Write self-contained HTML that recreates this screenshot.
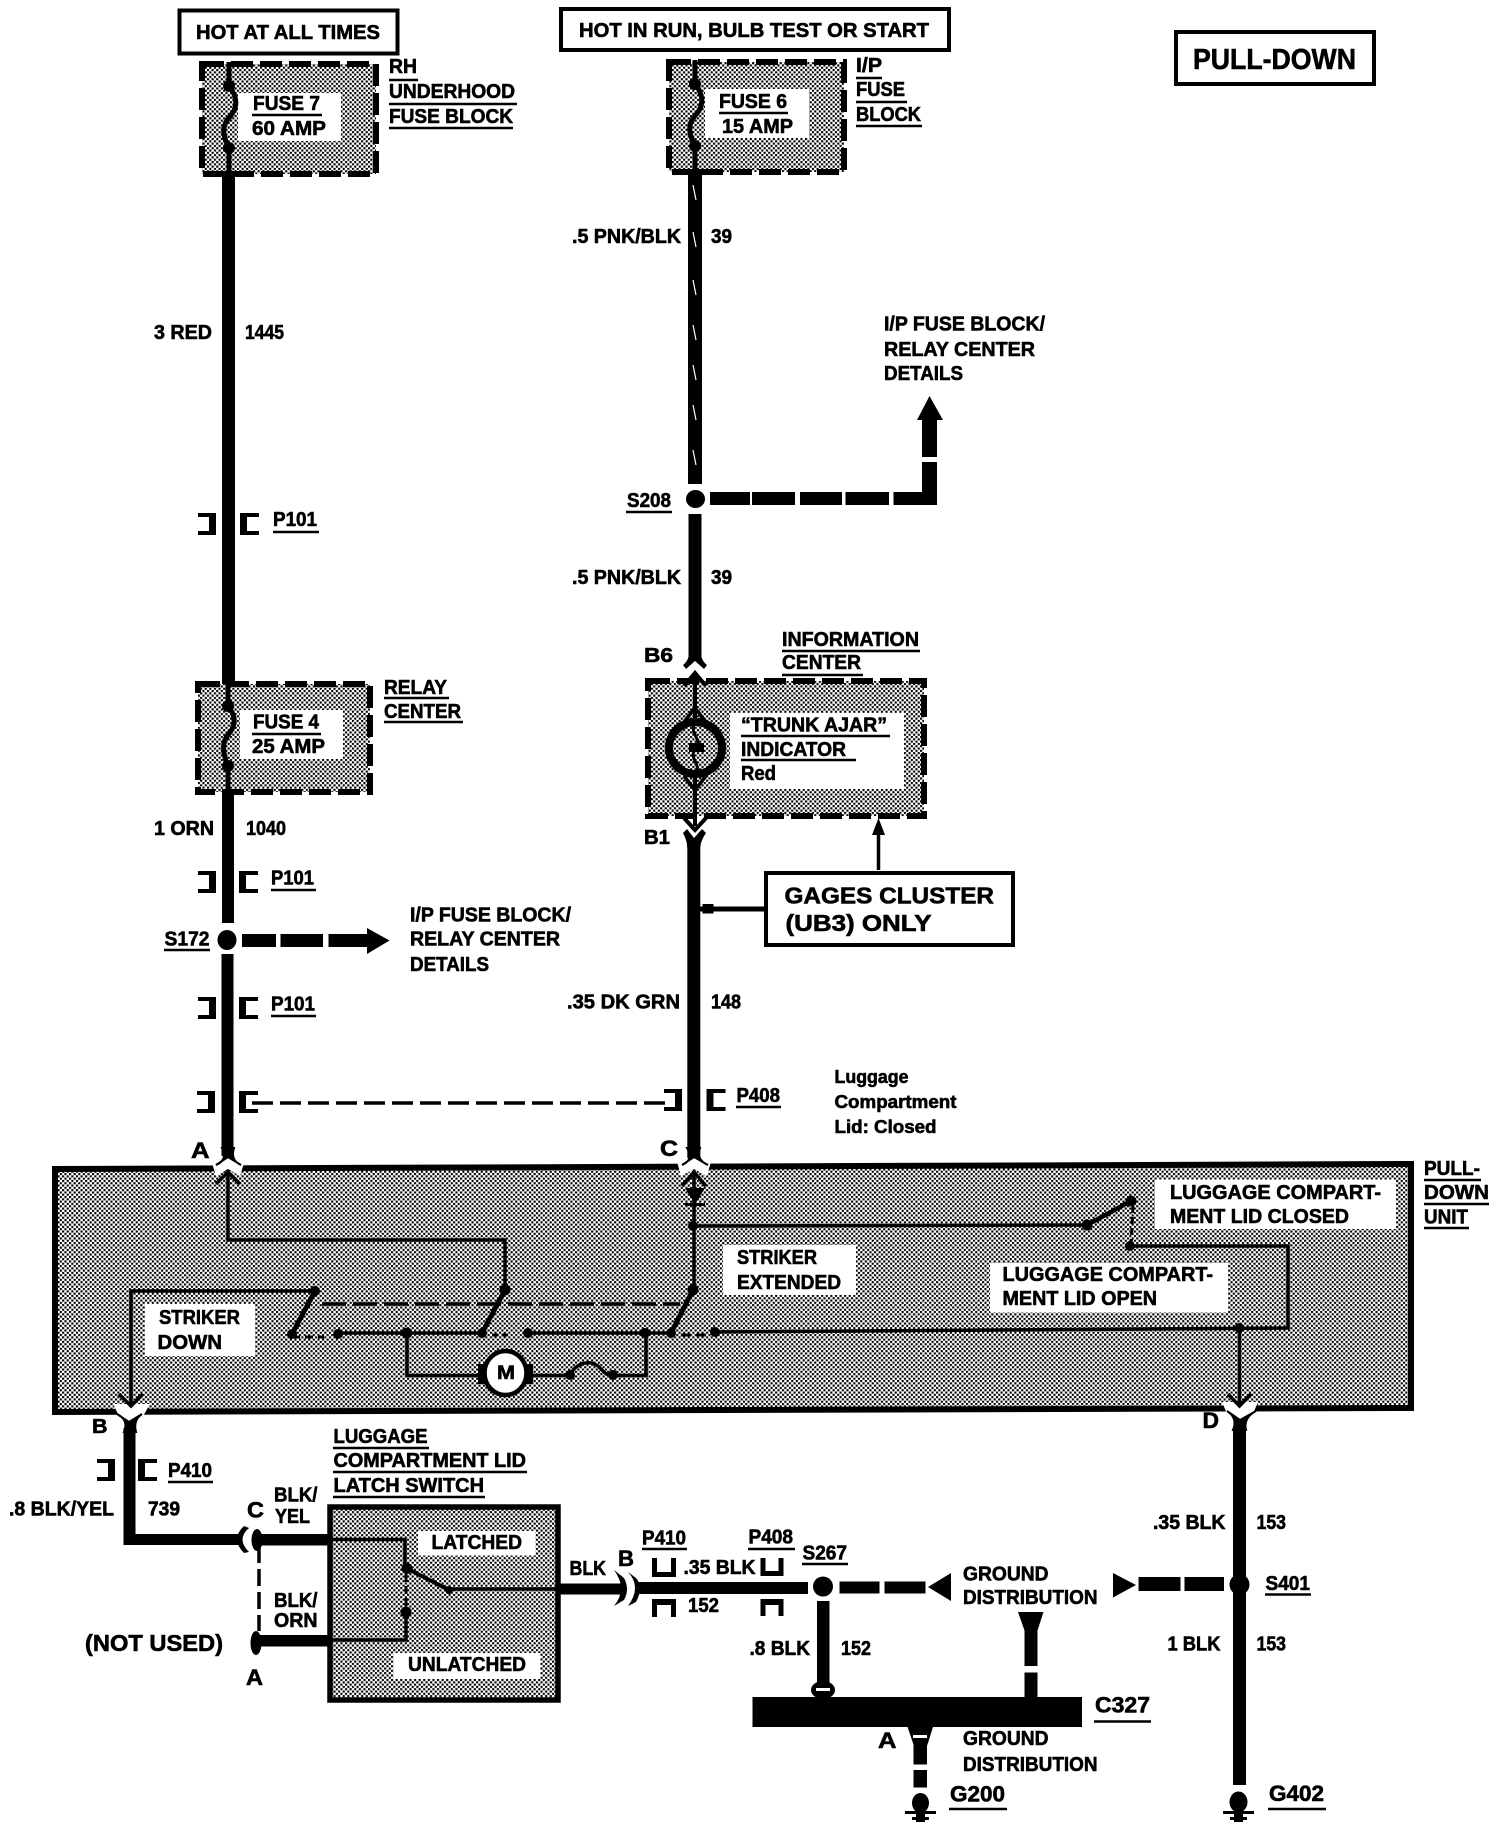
<!DOCTYPE html>
<html><head><meta charset="utf-8"><title>Pull-Down wiring diagram</title>
<style>
html,body{margin:0;padding:0;background:#fff}
svg{display:block}
text{font-family:"Liberation Sans",sans-serif;font-weight:700;font-size:20px;fill:#000;stroke:#000;stroke-width:.6;transform:translateY(-1px)}
.u{stroke:#000;stroke-width:2.6;fill:none}
.w{stroke:#000;stroke-width:3.5;fill:none}
.d{stroke:#000;stroke-width:6;fill:none;stroke-dasharray:22 7}
.n{stroke:#000;stroke-width:3.5;fill:none;stroke-dasharray:24 7}
</style></head><body>
<svg xmlns="http://www.w3.org/2000/svg" width="1504" height="1830" viewBox="0 0 1504 1830">
<defs>
<pattern id="h" width="4.6" height="4.6" patternUnits="userSpaceOnUse">
<rect width="4.6" height="4.6" fill="#fff"/><rect width="2.1" height="2.1" fill="#000"/><rect x="2.3" y="2.3" width="2.1" height="2.1" fill="#000"/>
</pattern>
<path id="rb" d="M0 0h18v22h-18v-4h11v-14h-11z"/>
<path id="lb" d="M0 0h19v4h-12v14h12v4h-19z"/>
</defs>
<rect width="1504" height="1830" fill="#fff"/>

<!-- top boxes -->
<rect x="179.500" y="10.500" width="218" height="43" fill="#fff" stroke="#000" stroke-width="4"/>
<rect x="561" y="9" width="388" height="41" fill="#fff" stroke="#000" stroke-width="4"/>
<rect x="1176" y="32" width="198" height="52" fill="#fff" stroke="#000" stroke-width="4"/>
<text x="196" y="40" textLength="184" lengthAdjust="spacingAndGlyphs">HOT AT ALL TIMES</text>
<text x="579" y="38" textLength="350" lengthAdjust="spacingAndGlyphs">HOT IN RUN, BULB TEST OR START</text>
<text x="1193" y="70" textLength="163" lengthAdjust="spacingAndGlyphs" style="font-size:29px">PULL-DOWN</text>

<!-- Fuse 7 -->
<rect x="202" y="64" width="174" height="110" fill="url(#h)"/>
<rect x="202" y="64" width="174" height="110" class="d"/>
<rect x="238" y="93" width="103" height="48" fill="#fff"/>
<path d="M229 62V86C240 100 236 110 229 118C222 125 222 135 229 148V172" fill="none" stroke="#000" stroke-width="5"/>
<circle cx="229" cy="86" r="6"/><circle cx="229" cy="148" r="6"/>
<text x="253" y="111" textLength="67" lengthAdjust="spacingAndGlyphs">FUSE 7</text>
<line class="u" x1="252" y1="115" x2="322" y2="115"/>
<text x="252" y="136" textLength="74" lengthAdjust="spacingAndGlyphs">60 AMP</text>
<text x="389" y="74" textLength="28" lengthAdjust="spacingAndGlyphs">RH</text><line class="u" x1="389" y1="80" x2="418" y2="80"/>
<text x="389" y="99" textLength="126" lengthAdjust="spacingAndGlyphs">UNDERHOOD</text><line class="u" x1="389" y1="104" x2="517" y2="104"/>
<text x="389" y="124" textLength="124" lengthAdjust="spacingAndGlyphs">FUSE BLOCK</text><line class="u" x1="389" y1="128" x2="513" y2="128"/>

<!-- Fuse 6 -->
<rect x="669" y="62" width="175" height="110" fill="url(#h)"/>
<rect x="669" y="62" width="175" height="110" class="d"/>
<rect x="705" y="89" width="104" height="49" fill="#fff"/>
<path d="M695 60V84C706 98 702 108 695 116C688 123 688 133 695 146V170" fill="none" stroke="#000" stroke-width="5"/>
<circle cx="695" cy="84" r="6"/><circle cx="695" cy="146" r="6"/>
<text x="719" y="109" textLength="68" lengthAdjust="spacingAndGlyphs">FUSE 6</text>
<line class="u" x1="719" y1="113" x2="788" y2="113"/>
<text x="722" y="134" textLength="71" lengthAdjust="spacingAndGlyphs">15 AMP</text>
<text x="856" y="73" textLength="26" lengthAdjust="spacingAndGlyphs">I/P</text><line class="u" x1="856" y1="78" x2="882" y2="78"/>
<text x="856" y="97" textLength="49" lengthAdjust="spacingAndGlyphs">FUSE</text><line class="u" x1="856" y1="102" x2="907" y2="102"/>
<text x="856" y="122" textLength="65" lengthAdjust="spacingAndGlyphs">BLOCK</text><line class="u" x1="856" y1="126" x2="922" y2="126"/>

<!-- Left wire -->
<rect x="222" y="171" width="13" height="513"/>
<text x="154" y="340" textLength="58" lengthAdjust="spacingAndGlyphs">3 RED</text>
<text x="245" y="340" textLength="39" lengthAdjust="spacingAndGlyphs">1445</text>
<use href="#rb" x="198" y="513"/><use href="#lb" x="240" y="513"/>
<text x="273" y="527" textLength="44" lengthAdjust="spacingAndGlyphs">P101</text><line class="u" x1="273" y1="532" x2="319" y2="532"/>

<!-- Fuse 4 -->
<rect x="198" y="684" width="172" height="108" fill="url(#h)"/>
<rect x="198" y="684" width="172" height="108" class="d"/>
<rect x="240" y="710" width="103" height="49" fill="#fff"/>
<path d="M228 684V706C238 718 234 728 228 735C222 742 222 752 228 766V792" fill="none" stroke="#000" stroke-width="5"/>
<circle cx="228" cy="706" r="6"/><circle cx="228" cy="766" r="6"/>
<text x="253" y="729.500" textLength="66" lengthAdjust="spacingAndGlyphs">FUSE 4</text>
<line class="u" x1="252" y1="734" x2="321" y2="734"/>
<text x="252" y="754" textLength="73" lengthAdjust="spacingAndGlyphs">25 AMP</text>
<text x="384" y="695" textLength="63" lengthAdjust="spacingAndGlyphs">RELAY</text><line class="u" x1="384" y1="698" x2="449" y2="698"/>
<text x="384" y="719" textLength="77" lengthAdjust="spacingAndGlyphs">CENTER</text><line class="u" x1="384" y1="722" x2="463" y2="722"/>

<rect x="222" y="791" width="12" height="132"/>
<text x="154" y="836" textLength="60" lengthAdjust="spacingAndGlyphs">1 ORN</text>
<text x="246" y="836" textLength="40" lengthAdjust="spacingAndGlyphs">1040</text>
<use href="#rb" x="198" y="871"/><use href="#lb" x="239" y="871"/>
<text x="271" y="885.500" textLength="43" lengthAdjust="spacingAndGlyphs">P101</text><line class="u" x1="271" y1="890" x2="316" y2="890"/>
<ellipse cx="227" cy="940" rx="9.500" ry="10"/>
<text x="164.500" y="946.500" textLength="45" lengthAdjust="spacingAndGlyphs">S172</text><line class="u" x1="164" y1="950" x2="210" y2="950"/>
<rect x="242" y="934" width="34" height="13"/><rect x="280.500" y="934" width="42.500" height="13"/><rect x="328.500" y="934" width="39" height="13"/>
<path d="M367 928L389.500 940.500L367 954z"/>
<text x="410" y="922.500" textLength="161" lengthAdjust="spacingAndGlyphs">I/P FUSE BLOCK/</text>
<text x="410" y="946.500" textLength="150" lengthAdjust="spacingAndGlyphs">RELAY CENTER</text>
<text x="410" y="972" textLength="79" lengthAdjust="spacingAndGlyphs">DETAILS</text>
<rect x="221.500" y="954" width="12" height="202"/>
<use href="#rb" x="198" y="997"/><use href="#lb" x="239" y="997"/>
<text x="271" y="1011.500" textLength="44" lengthAdjust="spacingAndGlyphs">P101</text><line class="u" x1="271" y1="1016" x2="316" y2="1016"/>
<use href="#rb" x="197" y="1091"/><use href="#lb" x="239" y="1091"/>
<line x1="252" y1="1103" x2="668" y2="1103" stroke="#000" stroke-width="3.500" stroke-dasharray="21 7"/>
<use href="#rb" x="664" y="1089"/><use href="#lb" x="706.500" y="1089"/>
<text x="736.500" y="1103" textLength="43.500" lengthAdjust="spacingAndGlyphs">P408</text><line class="u" x1="736" y1="1107" x2="781" y2="1107"/>
<text x="834.500" y="1084" textLength="74" lengthAdjust="spacingAndGlyphs" style="font-size:18px">Luggage</text>
<text x="834.500" y="1109" textLength="122" lengthAdjust="spacingAndGlyphs" style="font-size:18px">Compartment</text>
<text x="834.500" y="1134" textLength="102" lengthAdjust="spacingAndGlyphs" style="font-size:18px">Lid: Closed</text>

<!-- Middle wire -->
<rect x="688" y="169" width="14" height="315"/>
<g stroke="#fff" stroke-width="1.200">
<line x1="693" y1="185" x2="696" y2="200"/><line x1="693" y1="232" x2="696" y2="247"/><line x1="693" y1="280" x2="696" y2="295"/><line x1="693" y1="325" x2="696" y2="340"/><line x1="693" y1="365" x2="696" y2="380"/><line x1="693" y1="405" x2="696" y2="420"/><line x1="693" y1="450" x2="696" y2="465"/>
</g>
<text x="572" y="244" textLength="109" lengthAdjust="spacingAndGlyphs">.5 PNK/BLK</text>
<text x="711" y="244" textLength="21" lengthAdjust="spacingAndGlyphs">39</text>
<text x="884" y="331.500" textLength="161" lengthAdjust="spacingAndGlyphs">I/P FUSE BLOCK/</text>
<text x="884" y="357" textLength="151" lengthAdjust="spacingAndGlyphs">RELAY CENTER</text>
<text x="884" y="381" textLength="79" lengthAdjust="spacingAndGlyphs">DETAILS</text>
<path d="M929.500 396L943 420H917z"/>
<rect x="922" y="420" width="15" height="37"/><rect x="922" y="462" width="15" height="43"/>
<rect x="710" y="492" width="40" height="13"/><rect x="752" y="492" width="43" height="13"/><rect x="800" y="492" width="42" height="13"/><rect x="845.500" y="492" width="43.500" height="13"/><rect x="893.500" y="492" width="43.500" height="13"/>
<ellipse cx="695.500" cy="499" rx="9.500" ry="9"/>
<text x="627" y="508" textLength="44" lengthAdjust="spacingAndGlyphs">S208</text><line class="u" x1="626" y1="512" x2="672" y2="512"/>
<rect x="688.500" y="514" width="13" height="142"/>
<text x="572" y="585" textLength="109" lengthAdjust="spacingAndGlyphs">.5 PNK/BLK</text>
<text x="711" y="585" textLength="21" lengthAdjust="spacingAndGlyphs">39</text>
<text x="644" y="663" textLength="29" lengthAdjust="spacingAndGlyphs">B6</text>
<path d="M688.500 650V657Q687 662 683 665L686 669L695 661L704 669L707 665Q703 662 701.500 657V650z"/>

<!-- Information center -->
<text x="782" y="647" textLength="137" lengthAdjust="spacingAndGlyphs">INFORMATION</text><line class="u" x1="782" y1="651" x2="920" y2="651"/>
<text x="782" y="670" textLength="79" lengthAdjust="spacingAndGlyphs">CENTER</text><line class="u" x1="782" y1="675" x2="863" y2="675"/>
<rect x="648" y="681" width="276" height="135" fill="url(#h)"/>
<rect x="648" y="681" width="276" height="135" class="d"/>
<rect x="730" y="713" width="174" height="76" fill="#fff"/>
<line x1="695" y1="676" x2="695" y2="722" stroke="#000" stroke-width="4"/>
<line x1="695" y1="774" x2="695" y2="826" stroke="#000" stroke-width="4"/>
<polyline points="684,686 695,673 706,686" fill="none" stroke="#000" stroke-width="4"/>
<polyline points="684,818 695,830 706,818" fill="none" stroke="#000" stroke-width="4"/>
<polyline points="684,722 695,708 706,722" fill="none" stroke="#000" stroke-width="3.500"/>
<polyline points="684,776 695,790 706,776" fill="none" stroke="#000" stroke-width="3.500"/>
<ellipse cx="695.500" cy="748" rx="26.500" ry="26" fill="url(#h)" stroke="#000" stroke-width="8"/>
<path d="M695 722C688 735 705 740 695 750C688 758 703 765 695 775" fill="none" stroke="#000" stroke-width="3"/>
<rect x="689" y="743" width="15" height="9"/>
<text x="741" y="732.500" textLength="146" lengthAdjust="spacingAndGlyphs">“TRUNK AJAR”</text><line class="u" x1="741" y1="736" x2="890" y2="736"/>
<text x="741" y="757" textLength="105" lengthAdjust="spacingAndGlyphs">INDICATOR</text><line class="u" x1="741" y1="760" x2="856" y2="760"/>
<text x="741" y="781" textLength="35" lengthAdjust="spacingAndGlyphs">Red</text>
<text x="644" y="845" textLength="26" lengthAdjust="spacingAndGlyphs">B1</text>
<path d="M683 833L687 829L694 838L702 829L706 833Q701 840 700 848H687.300Q687 840 683 833z"/>
<rect x="687.300" y="845" width="13" height="316"/>
<text x="567" y="1009.500" textLength="113" lengthAdjust="spacingAndGlyphs">.35 DK GRN</text>
<text x="711" y="1009.500" textLength="30" lengthAdjust="spacingAndGlyphs">148</text>

<!-- Gages -->
<line x1="878.500" y1="870" x2="878.500" y2="830" stroke="#000" stroke-width="3.500"/>
<path d="M878.500 818L885 835H872z"/>
<rect x="700" y="906.500" width="64" height="5"/><rect x="702.500" y="904" width="11" height="9.500"/>
<rect x="766" y="873" width="247" height="72" fill="#fff" stroke="#000" stroke-width="4"/>
<text x="784.500" y="904.500" textLength="209.500" lengthAdjust="spacingAndGlyphs" style="font-size:23px">GAGES CLUSTER</text>
<text x="785.500" y="932" textLength="146" lengthAdjust="spacingAndGlyphs" style="font-size:23px">(UB3) ONLY</text>

<!-- Big pull-down box -->
<path d="M55 1169L1411 1164V1408L55 1412z" fill="url(#h)" stroke="#000" stroke-width="6"/>
<text x="1424" y="1176" textLength="56" lengthAdjust="spacingAndGlyphs">PULL-</text><line class="u" x1="1424" y1="1180" x2="1481" y2="1180"/>
<text x="1424" y="1200" textLength="65" lengthAdjust="spacingAndGlyphs">DOWN</text><line class="u" x1="1424" y1="1204" x2="1489" y2="1204"/>
<text x="1424" y="1224.500" textLength="44" lengthAdjust="spacingAndGlyphs">UNIT</text><line class="u" x1="1424" y1="1228" x2="1469" y2="1228"/>
<text x="191" y="1159" textLength="18.500" lengthAdjust="spacingAndGlyphs" style="font-size:22px">A</text>
<text x="660" y="1157" textLength="18" lengthAdjust="spacingAndGlyphs" style="font-size:22px">C</text>
<!-- gaps on border -->
<path d="M211 1160H245L240 1176L228 1169L216 1176z" fill="#fff"/>
<path d="M676 1158H712L707 1176L694 1169L681 1176z" fill="#fff"/>
<path d="M113 1404H150L142 1418H120z" fill="#fff"/>
<path d="M1222 1402H1258L1252 1416H1228z" fill="#fff"/>
<!-- flares -->
<path d="M216 1165Q228 1160 222 1148H234Q230 1160 241 1165L228 1157z" stroke="#000" stroke-width="2"/>
<path d="M682 1165Q694 1160 687 1148H700Q696 1160 708 1165L694 1157z" stroke="#000" stroke-width="2"/>

<!-- white labels -->
<rect x="145" y="1304" width="110" height="52" fill="#fff"/>
<rect x="723" y="1245" width="133" height="50" fill="#fff"/>
<rect x="1155" y="1179.500" width="241" height="49.500" fill="#fff"/>
<rect x="990" y="1263" width="238" height="49.500" fill="#fff"/>
<text x="159" y="1325" textLength="81" lengthAdjust="spacingAndGlyphs">STRIKER</text>
<text x="157.500" y="1350" textLength="64.500" lengthAdjust="spacingAndGlyphs">DOWN</text>
<text x="737" y="1265" textLength="80" lengthAdjust="spacingAndGlyphs">STRIKER</text>
<text x="737" y="1290" textLength="104" lengthAdjust="spacingAndGlyphs">EXTENDED</text>
<text x="1170" y="1200" textLength="211" lengthAdjust="spacingAndGlyphs">LUGGAGE COMPART-</text>
<text x="1170" y="1224" textLength="179" lengthAdjust="spacingAndGlyphs">MENT LID CLOSED</text>
<text x="1002.500" y="1282" textLength="210.500" lengthAdjust="spacingAndGlyphs">LUGGAGE COMPART-</text>
<text x="1002.500" y="1306" textLength="154.500" lengthAdjust="spacingAndGlyphs">MENT LID OPEN</text>

<!-- internal wiring -->
<polyline class="w" points="228,1172 228,1240 505,1240 505,1290"/>
<polyline points="216,1184 228,1172 240,1184" fill="none" stroke="#000" stroke-width="3.500"/>
<polyline class="w" points="131,1405 131,1291 315,1291"/>
<polyline points="119,1394 131,1406 143,1394" fill="none" stroke="#000" stroke-width="3.500"/>
<line x1="315" y1="1291" x2="292" y2="1334" stroke="#000" stroke-width="5"/>
<line x1="505" y1="1290" x2="482" y2="1333" stroke="#000" stroke-width="5"/>
<line x1="693" y1="1290" x2="671" y2="1333" stroke="#000" stroke-width="5"/>
<circle cx="315" cy="1291" r="5"/><circle cx="505" cy="1290" r="5.500"/><circle cx="693" cy="1290" r="5.500"/>
<circle cx="292" cy="1334" r="5"/><circle cx="482" cy="1333" r="5"/><circle cx="671" cy="1333" r="5"/>
<line class="n" x1="322" y1="1304" x2="680" y2="1304"/>
<line x1="292" y1="1337" x2="324" y2="1337" stroke="#000" stroke-width="3" stroke-dasharray="8 5"/>
<circle cx="338" cy="1334" r="5"/>
<line class="w" x1="338" y1="1333" x2="482" y2="1333"/>
<circle cx="407" cy="1333" r="5.500"/>
<polyline class="w" points="407,1333 407,1375.500 478,1375.500"/>
<rect x="478" y="1364" width="7" height="20"/><rect x="526" y="1364" width="7" height="20"/>
<ellipse cx="505.500" cy="1373" rx="21" ry="22" fill="#fff" stroke="#000" stroke-width="4.500"/>
<text x="497" y="1380" textLength="18" lengthAdjust="spacingAndGlyphs" style="font-size:19px">M</text>
<line class="w" x1="533" y1="1375.500" x2="570" y2="1375.500"/>
<path d="M570 1375.500C576 1362 590 1360 598 1366C604 1372 606 1375.500 613 1375.500H646V1333" fill="none" stroke="#000" stroke-width="3.500"/>
<circle cx="570" cy="1375" r="5"/><circle cx="613" cy="1375" r="5"/>
<line x1="492" y1="1335" x2="510" y2="1335" stroke="#000" stroke-width="3" stroke-dasharray="6 4"/>
<circle cx="528" cy="1333" r="5"/>
<line class="w" x1="528" y1="1333" x2="671" y2="1333"/>
<circle cx="645" cy="1333" r="5"/>
<line x1="681" y1="1335" x2="707" y2="1335" stroke="#000" stroke-width="3" stroke-dasharray="10 5"/>
<circle cx="715" cy="1332" r="5"/>
<polyline class="w" points="715,1332 1288,1328 1288,1246 1130,1246"/>
<circle cx="1130" cy="1246" r="5"/>
<line x1="1133" y1="1206" x2="1131" y2="1246" stroke="#000" stroke-width="3" stroke-dasharray="7 4"/>
<circle cx="1131" cy="1201" r="5.500"/>
<line x1="1131" y1="1201" x2="1087" y2="1225" stroke="#000" stroke-width="4.500"/>
<circle cx="1087" cy="1225" r="5.500"/>
<line class="w" x1="693" y1="1226" x2="1087" y2="1225"/>
<line class="w" x1="694" y1="1172" x2="694" y2="1290"/>
<polyline points="682,1186 694,1172 706,1186" fill="none" stroke="#000" stroke-width="3.500"/>
<path d="M685 1188H705L695 1204z"/><rect x="685" y="1203" width="20" height="3"/>
<circle cx="693" cy="1226" r="5"/>
<circle cx="1239.500" cy="1328" r="5"/>
<line class="w" x1="1239.500" y1="1328" x2="1239.500" y2="1405"/>
<polyline points="1228,1394 1239.500,1406 1251,1394" fill="none" stroke="#000" stroke-width="3.500"/>

<!-- B branch -->
<text x="92" y="1434" textLength="15.500" lengthAdjust="spacingAndGlyphs">B</text>
<path d="M117 1414Q129 1420 124 1432H136Q133 1420 142 1414L129 1422z" stroke="#000" stroke-width="2"/>
<rect x="123.500" y="1428" width="12" height="117"/>
<rect x="123.500" y="1534" width="116.500" height="11"/>
<use href="#rb" x="97" y="1459"/><use href="#lb" x="138" y="1459"/>
<text x="168" y="1478" textLength="44" lengthAdjust="spacingAndGlyphs">P410</text><line class="u" x1="168" y1="1482" x2="213" y2="1482"/>
<text x="9" y="1516.500" textLength="105" lengthAdjust="spacingAndGlyphs">.8 BLK/YEL</text>
<text x="148" y="1516.500" textLength="32" lengthAdjust="spacingAndGlyphs">739</text>
<text x="247" y="1518.500" textLength="17" lengthAdjust="spacingAndGlyphs" style="font-size:22px">C</text>
<path d="M249 1528Q236 1539 249 1552L244 1553Q230 1539 244 1526z"/>
<ellipse cx="257" cy="1540" rx="5.500" ry="11"/>
<rect x="254" y="1534" width="76" height="11.500"/>
<line x1="259" y1="1546" x2="259" y2="1631" stroke="#000" stroke-width="3.500" stroke-dasharray="17 6"/>
<ellipse cx="256" cy="1643" rx="5.500" ry="12"/>
<rect x="254" y="1635" width="76" height="11.500"/>
<text x="274" y="1502.500" textLength="43.500" lengthAdjust="spacingAndGlyphs">BLK/</text>
<text x="275" y="1524" textLength="35" lengthAdjust="spacingAndGlyphs">YEL</text>
<text x="274" y="1608" textLength="43.500" lengthAdjust="spacingAndGlyphs">BLK/</text>
<text x="274" y="1628" textLength="43.500" lengthAdjust="spacingAndGlyphs">ORN</text>
<text x="85" y="1652" textLength="138" lengthAdjust="spacingAndGlyphs" style="font-size:23px">(NOT USED)</text>
<text x="246" y="1686" textLength="17" lengthAdjust="spacingAndGlyphs" style="font-size:22px">A</text>

<!-- Latch switch -->
<text x="333.500" y="1444" textLength="94" lengthAdjust="spacingAndGlyphs">LUGGAGE</text><line class="u" x1="333" y1="1448" x2="429" y2="1448"/>
<text x="333.500" y="1468" textLength="192.500" lengthAdjust="spacingAndGlyphs">COMPARTMENT LID</text><line class="u" x1="333" y1="1472" x2="527" y2="1472"/>
<text x="333.500" y="1493" textLength="150.500" lengthAdjust="spacingAndGlyphs">LATCH SWITCH</text><line class="u" x1="333" y1="1497" x2="485" y2="1497"/>
<rect x="330" y="1507" width="228" height="193" fill="url(#h)" stroke="#000" stroke-width="5.500"/>
<rect x="418" y="1531" width="117.500" height="24.500" fill="#fff"/>
<rect x="393.500" y="1653" width="147" height="26" fill="#fff"/>
<text x="431.500" y="1550" textLength="90.500" lengthAdjust="spacingAndGlyphs">LATCHED</text>
<text x="408" y="1672" textLength="118" lengthAdjust="spacingAndGlyphs">UNLATCHED</text>
<polyline class="w" points="330,1539.500 405,1539.500 405,1568"/>
<circle cx="407" cy="1568.500" r="5.500"/>
<line x1="407" y1="1568.500" x2="449" y2="1590" stroke="#000" stroke-width="4"/>
<circle cx="449" cy="1590" r="4"/>
<line class="w" x1="449" y1="1589" x2="558" y2="1589"/>
<line x1="406" y1="1574" x2="406" y2="1612" stroke="#000" stroke-width="3" stroke-dasharray="8 4"/>
<circle cx="406" cy="1612" r="5.500"/>
<polyline class="w" points="406,1612 406,1640 330,1640"/>

<!-- horizontal lower wire -->
<rect x="557" y="1583.500" width="66" height="11"/>
<path d="M614 1570Q628 1589 614 1606L624 1600Q630 1589 624 1578z"/>
<path d="M628 1572Q642 1587 628 1606L636 1602Q644 1587 636 1578z"/>
<rect x="637" y="1582" width="171" height="12"/>
<text x="569.500" y="1576" textLength="36.500" lengthAdjust="spacingAndGlyphs">BLK</text>
<text x="618" y="1567" textLength="16" lengthAdjust="spacingAndGlyphs" style="font-size:22px">B</text>
<text x="642" y="1545.500" textLength="44" lengthAdjust="spacingAndGlyphs">P410</text><line class="u" x1="642" y1="1549" x2="687" y2="1549"/>
<path d="M652 1558h5v14h14v-14h5v19h-24z"/>
<path d="M652 1617v-18h24v18h-5v-12h-14v12z"/>
<text x="683.500" y="1575" textLength="72" lengthAdjust="spacingAndGlyphs">.35 BLK</text>
<text x="688" y="1613" textLength="31" lengthAdjust="spacingAndGlyphs">152</text>
<text x="748.500" y="1544.500" textLength="44.500" lengthAdjust="spacingAndGlyphs">P408</text><line class="u" x1="748" y1="1549" x2="795" y2="1549"/>
<path d="M760.500 1558h5v13h13v-13h5v18h-23z"/>
<path d="M760.500 1616v-17h23v17h-5v-11h-13v11z"/>
<text x="802.500" y="1560.500" textLength="44.500" lengthAdjust="spacingAndGlyphs">S267</text><line class="u" x1="802" y1="1564" x2="848" y2="1564"/>
<ellipse cx="823" cy="1586.500" rx="10" ry="10"/>
<rect x="839.500" y="1581.500" width="40" height="12"/><rect x="884.500" y="1581.500" width="41" height="12"/>
<path d="M928 1587L951 1573V1601z"/>
<text x="963" y="1581.500" textLength="85.500" lengthAdjust="spacingAndGlyphs">GROUND</text>
<text x="963" y="1605" textLength="134.500" lengthAdjust="spacingAndGlyphs">DISTRIBUTION</text>
<path d="M1113 1573L1136 1585L1113 1597.500z"/>
<rect x="1138.500" y="1577" width="42" height="14"/><rect x="1184.500" y="1577" width="39.500" height="14"/>

<!-- right wire -->
<text x="1202.500" y="1429" textLength="16.500" lengthAdjust="spacingAndGlyphs" style="font-size:22px">D</text>
<path d="M1227 1411Q1238 1418 1233 1430H1246Q1243 1418 1256 1411L1240 1420z" stroke="#000" stroke-width="2"/>
<rect x="1233" y="1428" width="13" height="217"/>
<ellipse cx="1239.500" cy="1584.500" rx="10" ry="10.500"/>
<rect x="1233" y="1599" width="13" height="186"/>
<text x="1153" y="1530" textLength="72.500" lengthAdjust="spacingAndGlyphs">.35 BLK</text>
<text x="1256.500" y="1530" textLength="29.500" lengthAdjust="spacingAndGlyphs">153</text>
<text x="1265.500" y="1591" textLength="44.500" lengthAdjust="spacingAndGlyphs">S401</text><line class="u" x1="1265" y1="1594.500" x2="1311" y2="1594.500"/>
<text x="1167.500" y="1651.500" textLength="53" lengthAdjust="spacingAndGlyphs">1 BLK</text>
<text x="1256.500" y="1651.500" textLength="29.500" lengthAdjust="spacingAndGlyphs">153</text>
<ellipse cx="1238.500" cy="1802" rx="9" ry="10.500"/>
<rect x="1223" y="1811" width="31" height="3"/><rect x="1230" y="1817" width="17" height="3"/><rect x="1234" y="1812" width="9" height="10"/>
<text x="1269" y="1802" textLength="55" lengthAdjust="spacingAndGlyphs" style="font-size:22px">G402</text><line class="u" x1="1268" y1="1809" x2="1326" y2="1809"/>

<!-- C327 -->
<rect x="817" y="1601" width="12.500" height="85"/>
<text x="749.500" y="1656" textLength="60.500" lengthAdjust="spacingAndGlyphs">.8 BLK</text>
<text x="841" y="1656" textLength="30" lengthAdjust="spacingAndGlyphs">152</text>
<ellipse cx="823" cy="1690" rx="12" ry="9"/>
<rect x="816" y="1688" width="14" height="3" fill="#fff"/>
<rect x="752.500" y="1697" width="329.500" height="30"/>
<path d="M1018 1612H1043.500L1037.500 1630.500H1024.500z"/>
<rect x="1024.500" y="1630" width="13" height="36"/><rect x="1024.500" y="1672.500" width="13" height="25"/>
<text x="1095" y="1713.500" textLength="55" lengthAdjust="spacingAndGlyphs" style="font-size:22px">C327</text><line class="u" x1="1094" y1="1721.500" x2="1151" y2="1721.500"/>
<text x="878" y="1749" textLength="18.500" lengthAdjust="spacingAndGlyphs" style="font-size:22px">A</text>
<path d="M907.500 1727H933L927 1746H914z"/>
<rect x="913.500" y="1740" width="13.500" height="24.500"/>
<rect x="913" y="1735" width="14" height="3" fill="#fff"/>
<rect x="913.500" y="1770" width="13.500" height="17.500"/>
<text x="963" y="1746" textLength="85.500" lengthAdjust="spacingAndGlyphs">GROUND</text>
<text x="963" y="1772" textLength="134.500" lengthAdjust="spacingAndGlyphs">DISTRIBUTION</text>
<ellipse cx="920.500" cy="1803" rx="8.500" ry="10"/>
<rect x="905" y="1811" width="31" height="3"/><rect x="912" y="1817" width="17" height="3"/><rect x="916" y="1812" width="9" height="10"/>
<text x="950" y="1802.500" textLength="55" lengthAdjust="spacingAndGlyphs" style="font-size:22px">G200</text><line class="u" x1="949" y1="1809" x2="1007" y2="1809"/>
</svg>
</body></html>
